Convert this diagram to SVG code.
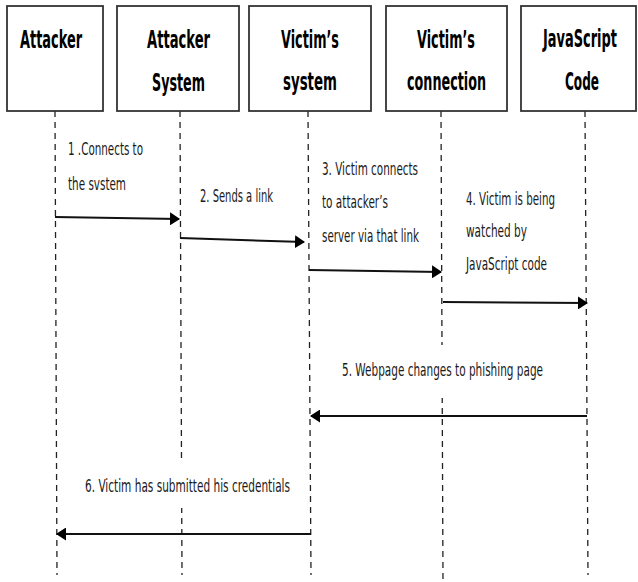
<svg xmlns="http://www.w3.org/2000/svg" width="638" height="582" viewBox="0 0 638 582">
<style>
.box{fill:#fff;stroke:#333;stroke-width:1.8}
.hd{font-family:"Liberation Sans Narrow","DejaVu Sans Condensed","Liberation Sans",sans-serif;font-weight:bold;font-size:24px;fill:#000}
.lb{font-family:"Liberation Sans Narrow","DejaVu Sans Condensed","Liberation Sans",sans-serif;font-size:17px;fill:#1a1a1a}
.life{stroke:#222;stroke-width:1.3;stroke-dasharray:6 5;fill:none}
.msg{stroke:#111;stroke-width:2;fill:none;marker-end:url(#ah)}
.bg{fill:#fff}
</style>
<defs>
<marker id="ah" viewBox="0 0 10 13" refX="9" refY="6.5" markerWidth="10" markerHeight="13" markerUnits="userSpaceOnUse" orient="auto">
<path d="M0,0 L10,6.5 L0,13 Z" fill="#000"/>
</marker>
</defs>
<g id="lifelines">
<line class="life" x1="55" y1="111" x2="57" y2="575"/>
<line class="life" x1="180" y1="111" x2="182" y2="575"/>
<line class="life" x1="308" y1="111" x2="311" y2="575"/>
<line class="life" x1="441" y1="111" x2="443" y2="580"/>
<line class="life" x1="585" y1="111" x2="588" y2="575"/>
</g>
<g id="attacker">
<rect class="box" x="7" y="6" width="96" height="105"/>
<text class="hd" x="20" y="48" textLength="62" lengthAdjust="spacingAndGlyphs">Attacker</text>
</g>
<g id="attacker-system">
<rect class="box" x="117" y="6" width="122" height="105"/>
<text class="hd" x="147" y="48" textLength="63" lengthAdjust="spacingAndGlyphs">Attacker</text>
<text class="hd" x="152" y="91" textLength="53" lengthAdjust="spacingAndGlyphs">System</text>
</g>
<g id="victim-system">
<rect class="box" x="249" y="6" width="122" height="105"/>
<text class="hd" x="281" y="48" textLength="58" lengthAdjust="spacingAndGlyphs">Victim’s</text>
<text class="hd" x="283" y="90" textLength="54" lengthAdjust="spacingAndGlyphs">system</text>
</g>
<g id="victim-connection">
<rect class="box" x="386" y="6" width="121" height="105"/>
<text class="hd" x="417" y="48" textLength="58" lengthAdjust="spacingAndGlyphs">Victim’s</text>
<text class="hd" x="407" y="90" textLength="79" lengthAdjust="spacingAndGlyphs">connection</text>
</g>
<g id="javascript-code">
<rect class="box" x="521" y="6" width="115" height="105"/>
<text class="hd" transform="translate(543,47) scale(0.6,1)" x="0" y="0" textLength="123.3" lengthAdjust="spacingAndGlyphs">JavaScript</text>
<text class="hd" x="565" y="90" textLength="34" lengthAdjust="spacingAndGlyphs">Code</text>
</g>
<g id="connectors">
<path class="msg" d="M55,217 L179,219"/>
<path class="msg" d="M180,238 L304,242"/>
<path class="msg" d="M309,270 L441,272"/>
<path class="msg" d="M443,302 L587,303"/>
<path class="msg" d="M587,416 L311,416"/>
<path class="msg" d="M311,534 L57,534"/>
</g>
<g id="labels">
<text class="lb" x="68" y="155" textLength="75" lengthAdjust="spacingAndGlyphs">1 .Connects to</text>
<text class="lb" x="68" y="190" textLength="58" lengthAdjust="spacingAndGlyphs">the svstem</text>
<text class="lb" x="200" y="202" textLength="73" lengthAdjust="spacingAndGlyphs">2. Sends a link</text>
<text class="lb" x="322" y="175" textLength="96" lengthAdjust="spacingAndGlyphs">3. Victim connects</text>
<text class="lb" x="322" y="208" textLength="66" lengthAdjust="spacingAndGlyphs">to attacker’s</text>
<text class="lb" x="322" y="242" textLength="97" lengthAdjust="spacingAndGlyphs">server via that link</text>
<text class="lb" x="466" y="205" textLength="89" lengthAdjust="spacingAndGlyphs">4. Victim is being</text>
<text class="lb" x="466" y="237" textLength="61" lengthAdjust="spacingAndGlyphs">watched by</text>
<text class="lb" x="466" y="270" textLength="81" lengthAdjust="spacingAndGlyphs">JavaScript code</text>
<rect class="bg" x="330" y="345" width="236" height="53"/>
<text class="lb" x="342" y="376" textLength="201" lengthAdjust="spacingAndGlyphs">5. Webpage changes to phishing page</text>
<rect class="bg" x="72" y="458" width="226" height="50"/>
<text class="lb" x="85" y="492" textLength="205" lengthAdjust="spacingAndGlyphs">6. Victim has submitted his credentials</text>
</g>
</svg>
